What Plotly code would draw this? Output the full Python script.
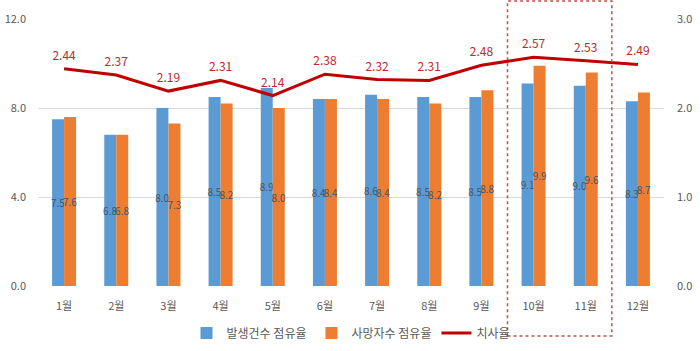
import plotly.graph_objects as go

months = ["1월", "2월", "3월", "4월", "5월", "6월", "7월", "8월", "9월", "10월", "11월", "12월"]
occurrence_share = [7.5, 6.8, 8.0, 8.5, 8.9, 8.4, 8.6, 8.5, 8.5, 9.1, 9.0, 8.3]
death_share = [7.6, 6.8, 7.3, 8.2, 8.0, 8.4, 8.4, 8.2, 8.8, 9.9, 9.6, 8.7]
fatality_rate = [2.44, 2.37, 2.19, 2.31, 2.14, 2.38, 2.32, 2.31, 2.48, 2.57, 2.53, 2.49]
left_ticks = [0, 4, 8, 12]
right_ticks = [0, 1, 2, 3]

FONT = "Noto Sans CJK KR"
xs = list(range(len(months)))

fig = go.Figure()
fig.add_trace(go.Bar(
    x=xs, y=occurrence_share, name="발생건수 점유율",
    marker=dict(color="#5b9bd5", line=dict(width=0)),
    text=[f"{v:.1f}" for v in occurrence_share], textposition="inside",
    insidetextanchor="middle", constraintext="none",
    textfont=dict(family=FONT, size=10, color="#44546a"),
    yaxis="y",
))
fig.add_trace(go.Bar(
    x=xs, y=death_share, name="사망자수 점유율",
    marker=dict(color="#ed7d31", line=dict(width=0)),
    text=[f"{v:.1f}" for v in death_share], textposition="inside",
    insidetextanchor="middle", constraintext="none",
    textfont=dict(family=FONT, size=10, color="#44546a"),
    yaxis="y",
))
fig.add_trace(go.Scatter(
    x=xs, y=fatality_rate, name="치사율", mode="lines+markers+text",
    line=dict(color="#c00000", width=3),
    marker=dict(size=8, color="rgba(0,0,0,0)"),
    text=[f"{v:.2f}" for v in fatality_rate], textposition="top center",
    textfont=dict(family=FONT, size=12, color="#c0282d"),
    yaxis="y2", cliponaxis=False,
))

L, R, T, B = 38, 36, 19, 65
ph = 351 - T - B
fig.add_shape(type="rect", xref="x", yref="paper",
              x0=8.5, x1=10.5, y0=(286 - 336) / ph, y1=(286 - 1) / ph,
              line=dict(color="#c0504d", width=1.5, dash="dot"))

fig.update_layout(
    width=700, height=351,
    margin=dict(l=L, r=R, t=T, b=B, autoexpand=False),
    paper_bgcolor="white", plot_bgcolor="white",
    barmode="group", bargap=0.54, bargroupgap=0,
    font=dict(family=FONT, size=11, color="#595959"),
    xaxis=dict(range=[-0.5, 11.5], tickvals=xs, ticktext=months, automargin=False,
               showgrid=False, zeroline=False, showline=False, ticks="",
               ticklabelstandoff=12, tickfont=dict(size=11, color="#595959")),
    yaxis=dict(range=[0, 12], tickvals=left_ticks, automargin=False,
               ticktext=[f"{v:.1f}" for v in left_ticks],
               showgrid=True, gridcolor="#d9d9d9", gridwidth=1,
               zeroline=False, showline=False, ticks="", ticklabelstandoff=11,
               tickfont=dict(size=11, color="#595959")),
    yaxis2=dict(range=[0, 3], tickvals=right_ticks, automargin=False,
                ticktext=[f"{v:.1f}" for v in right_ticks],
                overlaying="y", side="right", showgrid=False,
                zeroline=False, showline=False, ticks="", ticklabelstandoff=12,
                tickfont=dict(size=11, color="#595959")),
    legend=dict(orientation="h", x=0.5, xanchor="center",
                yref="container", y=(351 - 333) / 351, yanchor="middle",
                font=dict(size=12, color="#595959"), traceorder="normal",
                itemwidth=30, bgcolor="rgba(0,0,0,0)"),
    showlegend=True,
)

fig.write_html("out.html")
